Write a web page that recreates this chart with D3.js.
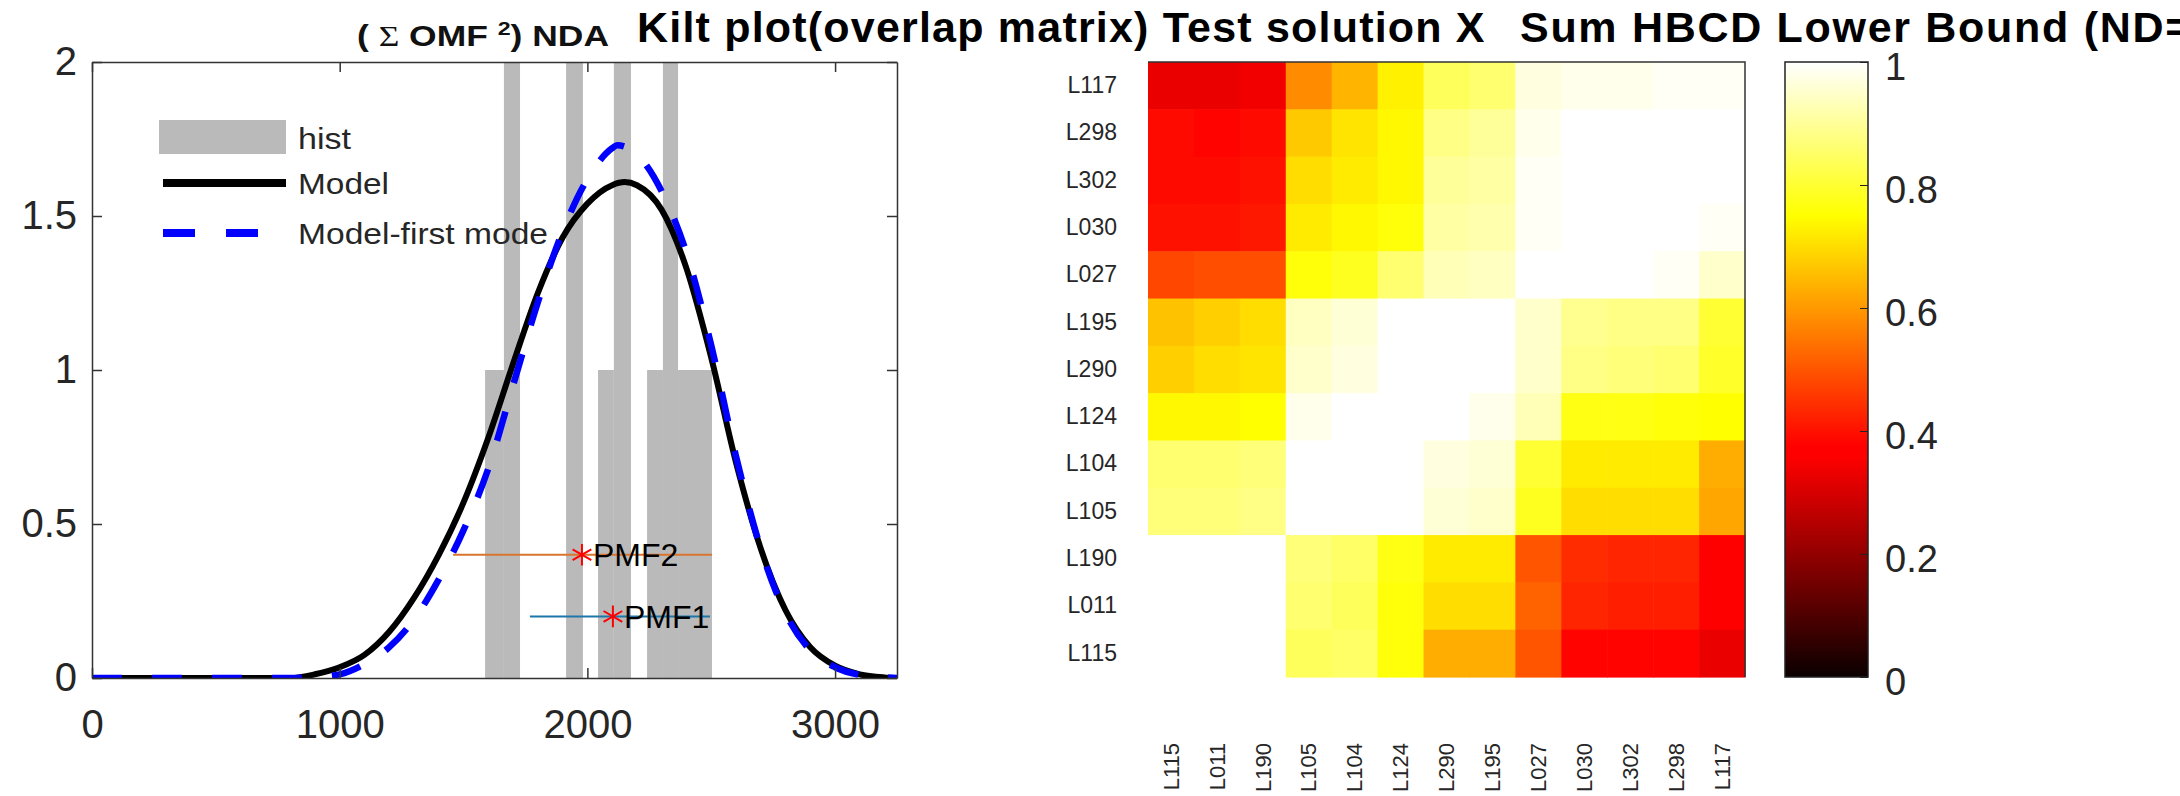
<!DOCTYPE html>
<html>
<head>
<meta charset="utf-8">
<script src="https://cdn.jsdelivr.net/npm/d3@7"></script>
<style>
body { margin: 0; background: #fff; }
svg { display: block; font-family: "Liberation Sans", Arial, sans-serif; }
</style>
</head>
<body>
<svg width="2180" height="796"></svg>
<script>
// ---- left panel data ----
var modelX = [0, 400, 800, 900, 1000, 1100, 1200, 1300, 1400, 1500, 1600, 1700, 1800, 1900, 2000, 2100, 2150, 2200, 2300, 2400, 2500, 2600, 2700, 2800, 2900, 3000, 3100, 3200, 3250];
var modelY = [0, 0, 0, 0.012, 0.035, 0.075, 0.15, 0.26, 0.4, 0.57, 0.78, 1.02, 1.25, 1.43, 1.54, 1.6, 1.61, 1.6, 1.52, 1.33, 1.04, 0.7, 0.42, 0.22, 0.1, 0.04, 0.012, 0.002, 0];
var firstModeX = [0, 400, 800, 900, 1000, 1100, 1200, 1300, 1400, 1500, 1600, 1700, 1800, 1900, 2000, 2100, 2120, 2200, 2300, 2400, 2500, 2600, 2700, 2800, 2900, 3000, 3100, 3200, 3250];
var firstModeY = [0, 0, 0, 0.003, 0.012, 0.045, 0.1, 0.19, 0.32, 0.48, 0.68, 0.95, 1.22, 1.45, 1.62, 1.72, 1.73, 1.7, 1.58, 1.38, 1.08, 0.72, 0.42, 0.21, 0.09, 0.035, 0.01, 0.002, 0];

var histLeft  = [1587, 1663, 1914, 2043, 2107, 2241, 2305, 2366];
var histRight = [1663, 1728, 1982, 2107, 2176, 2305, 2366, 2503];
var histCount = [1, 2, 2, 1, 2, 1, 2, 1];

var pmfNames  = ["PMF1", "PMF2"];
var pmfCenter = [2103, 1978];
var pmfLow    = [1768, 1458];
var pmfHigh   = [2495, 2503];
var pmfLevel  = [0.2, 0.4];

var xTicks = [0, 1000, 2000, 3000];
var yTicks = [0, 0.5, 1, 1.5, 2];

// ---- right panel data ----
var rowLabels = ["L117", "L298", "L302", "L030", "L027", "L195", "L290", "L124", "L104", "L105", "L190", "L011", "L115"];
var colLabels = ["L115", "L011", "L190", "L105", "L104", "L124", "L290", "L195", "L027", "L030", "L302", "L298", "L117"];
var overlap = [
  [0.33, 0.33, 0.34, 0.58, 0.64, 0.73, 0.84, 0.86, 0.97, 0.98, 0.98, 0.99, 0.99],
  [0.39, 0.38, 0.39, 0.67, 0.71, 0.74, 0.88, 0.90, 0.98, 1, 1, 1, 1],
  [0.39, 0.39, 0.40, 0.70, 0.72, 0.74, 0.90, 0.91, 0.99, 1, 1, 1, 1],
  [0.40, 0.40, 0.41, 0.72, 0.74, 0.76, 0.91, 0.92, 0.99, 1, 1, 1, 0.99],
  [0.48, 0.49, 0.49, 0.76, 0.78, 0.86, 0.93, 0.94, 1, 1, 1, 0.99, 0.95],
  [0.66, 0.68, 0.70, 0.94, 0.96, 1, 1, 1, 0.95, 0.89, 0.88, 0.88, 0.80],
  [0.68, 0.70, 0.71, 0.95, 0.97, 1, 1, 1, 0.95, 0.88, 0.87, 0.86, 0.79],
  [0.74, 0.74, 0.75, 0.98, 1, 1, 1, 0.98, 0.93, 0.77, 0.77, 0.76, 0.75],
  [0.86, 0.86, 0.87, 1, 1, 1, 0.97, 0.96, 0.80, 0.72, 0.72, 0.72, 0.63],
  [0.87, 0.87, 0.88, 1, 1, 1, 0.96, 0.95, 0.78, 0.70, 0.70, 0.70, 0.62],
  [1, 1, 1, 0.87, 0.85, 0.77, 0.72, 0.72, 0.50, 0.44, 0.43, 0.43, 0.37],
  [1, 1, 1, 0.86, 0.84, 0.76, 0.70, 0.70, 0.52, 0.43, 0.42, 0.42, 0.37],
  [1, 1, 1, 0.84, 0.85, 0.76, 0.63, 0.63, 0.50, 0.38, 0.38, 0.38, 0.33]
];
var cbarTicks = [0, 0.2, 0.4, 0.6, 0.8, 1];

var svg = d3.select("svg");
var textColor = "#262626";

// matlab "hot" colormap
function hot(t) {
  var r = Math.min(1, (t + 1 / 64) / 0.375);
  var g = Math.max(0, Math.min(1, (t - 0.375) / 0.375));
  var b = Math.max(0, Math.min(1, (t - 0.75) / 0.25));
  return d3.rgb(r * 255, g * 255, b * 255).toString();
}

// ================= left panel =================
var margin = {top: 62, left: 92};
var width = 805, height = 616;

var xScale = d3.scaleLinear().domain([0, 3250]).range([0, width]);
var yScale = d3.scaleLinear().domain([0, 2]).range([height, 0]);

var left = svg.append("g").attr("transform", "translate(" + margin.left + "," + margin.top + ")");

left.append("clipPath").attr("id", "plotClip")
  .append("rect").attr("width", width).attr("height", height);

var plot = left.append("g").attr("clip-path", "url(#plotClip)");

// histogram bars
plot.selectAll(".bar")
  .data(histCount)
  .enter()
  .append("rect")
  .attr("class", "bar")
  .attr("x", (d, i) => xScale(histLeft[i]))
  .attr("width", (d, i) => xScale(histRight[i]) - xScale(histLeft[i]))
  .attr("y", d => yScale(d))
  .attr("height", d => yScale(0) - yScale(d))
  .attr("fill", "#bababa");

var line = d3.line()
  .x(d => xScale(d[0]))
  .y(d => yScale(d[1]))
  .curve(d3.curveMonotoneX);

plot.append("path")
  .datum(modelX.map((x, i) => [x, modelY[i]]))
  .attr("d", line)
  .attr("fill", "none")
  .attr("stroke", "#000")
  .attr("stroke-width", 6);

plot.append("path")
  .datum(firstModeX.map((x, i) => [x, firstModeY[i]]))
  .attr("d", line)
  .attr("fill", "none")
  .attr("stroke", "#0000ff")
  .attr("stroke-width", 6.5)
  .attr("stroke-dasharray", "30,30");

// PMF ranges
var pmfColors = ["#1f77a8", "#d9752f"];
pmfNames.forEach(function(name, i) {
  plot.append("line")
    .attr("x1", xScale(pmfLow[i])).attr("x2", xScale(pmfHigh[i]))
    .attr("y1", yScale(pmfLevel[i])).attr("y2", yScale(pmfLevel[i]))
    .attr("stroke", pmfColors[i]).attr("stroke-width", 2);
  plot.append("path")
    .attr("d", d3.symbol(d3.symbolAsterisk, 330)())
    .attr("transform", "translate(" + xScale(pmfCenter[i]) + "," + yScale(pmfLevel[i]) + ")")
    .attr("fill", "none").attr("stroke", "#ff0000").attr("stroke-width", 2);
  plot.append("text")
    .text(name)
    .attr("x", xScale(pmfCenter[i]) + 11)
    .attr("y", yScale(pmfLevel[i]))
    .attr("dy", "0.35em")
    .attr("font-size", 32)
    .attr("fill", "#000");
});

// axes
var xAxisGroup = left.append("g").attr("class", "xAxis")
  .attr("transform", "translate(0," + height + ")")
  .call(d3.axisBottom(xScale).tickValues(xTicks).tickSize(-10).tickSizeOuter(0).tickPadding(32).tickFormat(d3.format("d")));
var xTopGroup = left.append("g")
  .call(d3.axisTop(xScale).tickValues(xTicks).tickSize(-10).tickSizeOuter(0).tickFormat(""));
var yAxisGroup = left.append("g").attr("class", "yAxis")
  .call(d3.axisLeft(yScale).tickValues(yTicks).tickSize(-10).tickSizeOuter(0).tickPadding(15).tickFormat(d => String(d)));
var yRightGroup = left.append("g")
  .attr("transform", "translate(" + width + ",0)")
  .call(d3.axisRight(yScale).tickValues(yTicks).tickSize(-10).tickSizeOuter(0).tickFormat(""));

[xAxisGroup, xTopGroup, yAxisGroup, yRightGroup].forEach(function(g) {
  g.select(".domain").attr("stroke", "#333").attr("stroke-width", 1.5);
  g.selectAll(".tick line").attr("stroke", "#333").attr("stroke-width", 1.5);
  g.selectAll("text").attr("font-size", 40).attr("fill", textColor).attr("font-family", "Liberation Sans, Arial, sans-serif");
});

// legend
var legend = left.append("g");
legend.append("rect").attr("x", 67).attr("y", 58).attr("width", 127).attr("height", 34).attr("fill", "#bababa");
legend.append("line").attr("x1", 71).attr("x2", 194).attr("y1", 121).attr("y2", 121)
  .attr("stroke", "#000").attr("stroke-width", 8);
legend.append("line").attr("x1", 71).attr("x2", 166).attr("y1", 171).attr("y2", 171)
  .attr("stroke", "#0000ff").attr("stroke-width", 8).attr("stroke-dasharray", "32,31");
var legendNames = ["hist", "Model", "Model-first mode"];
var legendY = [76, 121, 171];
var legendLen = [53, 91, 250];
legend.selectAll(".ltext")
  .data(legendNames)
  .enter()
  .append("text")
  .attr("class", "ltext")
  .text(d => d)
  .attr("x", 206)
  .attr("y", (d, i) => legendY[i])
  .attr("dy", "0.35em")
  .attr("font-size", 30)
  .attr("textLength", (d, i) => legendLen[i])
  .attr("lengthAdjust", "spacingAndGlyphs")
  .attr("fill", textColor);

// left title
var lt = svg.append("text")
  .attr("x", 357).attr("y", 46)
  .attr("font-size", 29).attr("font-weight", "bold")
  .attr("textLength", 252).attr("lengthAdjust", "spacingAndGlyphs")
  .attr("fill", "#111");
lt.append("tspan").text("( ");
lt.append("tspan").text("\u03A3").attr("font-weight", "normal").attr("font-family", "Liberation Serif, serif");
lt.append("tspan").text(" OMF ");
lt.append("tspan").text("2").attr("font-size", 19).attr("dy", -11);
lt.append("tspan").text(") NDA").attr("dy", 11);

// ================= right panel: kilt plot =================
var hm = {left: 1148, top: 62, width: 597, height: 615};
var xBand = d3.scaleBand().domain(colLabels).range([0, hm.width]);
var yBand = d3.scaleBand().domain(rowLabels).range([0, hm.height]);

var kilt = svg.append("g").attr("transform", "translate(" + hm.left + "," + hm.top + ")");

var cells = [];
overlap.forEach(function(row, r) {
  row.forEach(function(v, c) {
    cells.push({row: rowLabels[r], col: colLabels[c], value: v});
  });
});

kilt.selectAll(".cell")
  .data(cells)
  .enter()
  .append("rect")
  .attr("class", "cell")
  .attr("x", d => xBand(d.col))
  .attr("y", d => yBand(d.row))
  .attr("width", xBand.bandwidth() + 0.6)
  .attr("height", yBand.bandwidth() + 0.6)
  .attr("fill", d => hot(d.value));

kilt.append("path")
  .attr("d", "M0,0H" + hm.width + "V" + hm.height)
  .attr("fill", "none").attr("stroke", "#333").attr("stroke-width", 1.5);

var rowAxis = kilt.append("g")
  .call(d3.axisLeft(yBand).tickSize(0).tickPadding(31));
rowAxis.select(".domain").remove();
rowAxis.selectAll("text").attr("font-size", 23).attr("fill", textColor).attr("font-family", "Liberation Sans, Arial, sans-serif");

var colAxis = kilt.append("g")
  .attr("transform", "translate(0," + hm.height + ")")
  .call(d3.axisBottom(xBand).tickSize(0));
colAxis.select(".domain").remove();
colAxis.selectAll("text")
  .attr("transform", "rotate(-90)")
  .attr("x", -66).attr("y", 0).attr("dy", "0.35em")
  .attr("text-anchor", "end")
  .attr("font-size", 22).attr("fill", textColor).attr("font-family", "Liberation Sans, Arial, sans-serif");

// colorbar
var cb = {left: 1785, top: 62, width: 83, height: 615};
var cScale = d3.scaleLinear().domain([0, 1]).range([cb.height, 0]);
var grad = svg.append("defs").append("linearGradient")
  .attr("id", "hotGrad").attr("x1", 0).attr("y1", 1).attr("x2", 0).attr("y2", 0);
grad.selectAll("stop")
  .data(d3.range(0, 1.0001, 1 / 64))
  .enter()
  .append("stop")
  .attr("offset", d => d)
  .attr("stop-color", d => hot(d));

var cbar = svg.append("g").attr("transform", "translate(" + cb.left + "," + cb.top + ")");
cbar.append("rect").attr("width", cb.width).attr("height", cb.height)
  .attr("fill", "url(#hotGrad)").attr("stroke", "#222").attr("stroke-width", 1.5);
var cAxis = cbar.append("g")
  .attr("transform", "translate(" + cb.width + ",0)")
  .call(d3.axisRight(cScale).tickValues(cbarTicks).tickSize(-8).tickSizeOuter(0).tickPadding(17).tickFormat(d => String(d)));
cAxis.select(".domain").remove();
cAxis.selectAll(".tick line").attr("stroke", "#222");
cAxis.selectAll("text").attr("dy", "0.45em").attr("font-size", 38).attr("fill", textColor).attr("font-family", "Liberation Sans, Arial, sans-serif");

// right title, in two runs (runs off the figure edge like the original)
var titleParts = ["Kilt plot(overlap matrix) Test solution X", "Sum HBCD Lower Bound (ND="];
var titleX = [637, 1520];
var titleSpacing = [1.2, 1.7];
svg.selectAll(".title")
  .data(titleParts)
  .enter()
  .append("text")
  .attr("class", "title")
  .text(d => d)
  .attr("x", (d, i) => titleX[i])
  .attr("y", 42)
  .attr("font-size", 43).attr("font-weight", "bold")
  .attr("letter-spacing", (d, i) => titleSpacing[i])
  .attr("fill", "#000");
</script>
</body>
</html>
